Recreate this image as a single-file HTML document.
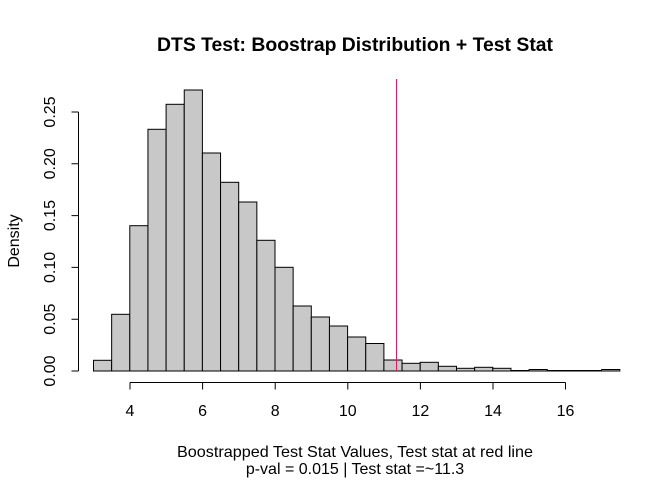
<!DOCTYPE html>
<html><head><style>body{margin:0;background:#fff}svg{display:block}text{font-family:"Liberation Sans",Arial,sans-serif;fill:#000}</style></head>
<body>
<svg width="672" height="480" viewBox="0 0 672 480" xmlns="http://www.w3.org/2000/svg">
<text x="355" y="51" font-size="19" font-weight="bold" text-anchor="middle" textLength="396" lengthAdjust="spacingAndGlyphs">DTS Test: Boostrap Distribution + Test Stat</text>
<g fill="#c8c8c8" stroke="#000" stroke-width="1">
<rect x="93.5" y="360.3" width="18.15" height="10.7"/>
<rect x="111.65" y="314.3" width="18.15" height="56.7"/>
<rect x="129.8" y="225.7" width="18.15" height="145.3"/>
<rect x="147.95" y="129.3" width="18.15" height="241.7"/>
<rect x="166.1" y="104.3" width="18.15" height="266.7"/>
<rect x="184.25" y="90" width="18.15" height="281"/>
<rect x="202.4" y="153" width="18.15" height="218"/>
<rect x="220.55" y="182.3" width="18.15" height="188.7"/>
<rect x="238.7" y="202" width="18.15" height="169"/>
<rect x="256.85" y="240.3" width="18.15" height="130.7"/>
<rect x="275" y="267.3" width="18.15" height="103.7"/>
<rect x="293.15" y="306" width="18.15" height="65"/>
<rect x="311.3" y="317" width="18.15" height="54"/>
<rect x="329.45" y="326" width="18.15" height="45"/>
<rect x="347.6" y="337" width="18.15" height="34"/>
<rect x="365.75" y="343.5" width="18.15" height="27.5"/>
<rect x="383.9" y="360" width="18.15" height="11"/>
<rect x="402.05" y="363.3" width="18.15" height="7.7"/>
<rect x="420.2" y="362.3" width="18.15" height="8.7"/>
<rect x="438.35" y="366.3" width="18.15" height="4.7"/>
<rect x="456.5" y="368.3" width="18.15" height="2.7"/>
<rect x="474.65" y="367.3" width="18.15" height="3.7"/>
<rect x="492.8" y="368.3" width="18.15" height="2.7"/>
<rect x="510.95" y="370.5" width="18.15" height="0.5"/>
<rect x="529.1" y="369.5" width="18.15" height="1.5"/>
<rect x="547.25" y="370.5" width="18.15" height="0.5"/>
<rect x="565.4" y="370.5" width="18.15" height="0.5"/>
<rect x="583.55" y="370.5" width="18.15" height="0.5"/>
<rect x="601.7" y="369.5" width="18.15" height="1.5"/>
</g>
<line x1="396.5" y1="79" x2="396.5" y2="371" stroke="#e8175d" stroke-width="1"/>
<g stroke="#000" stroke-width="1" fill="none">
<path d="M130,382.5H565.5M130,382.5v7M202.6,382.5v7M275.2,382.5v7M347.8,382.5v7M420.4,382.5v7M493,382.5v7M565.5,382.5v7"/>
<path d="M78.5,371V112M78.5,371h-7M78.5,319.2h-7M78.5,267.4h-7M78.5,215.6h-7M78.5,163.8h-7M78.5,112h-7"/>
</g>
<g font-size="16" text-anchor="middle">
<text x="130" y="416">4</text><text x="202.6" y="416">6</text><text x="275.2" y="416">8</text>
<text x="347.8" y="416">10</text><text x="420.4" y="416">12</text><text x="493" y="416">14</text><text x="565.5" y="416">16</text>
<text transform="translate(55,371) rotate(-90)">0.00</text>
<text transform="translate(55,319.2) rotate(-90)">0.05</text>
<text transform="translate(55,267.4) rotate(-90)">0.10</text>
<text transform="translate(55,215.6) rotate(-90)">0.15</text>
<text transform="translate(55,163.8) rotate(-90)">0.20</text>
<text transform="translate(55,112) rotate(-90)">0.25</text>
<text transform="translate(19,241) rotate(-90)">Density</text>
<text x="355" y="457" textLength="356" lengthAdjust="spacingAndGlyphs">Boostrapped Test Stat Values, Test stat at red line</text>
<text x="355" y="474">p-val = 0.015 | Test stat =~11.3</text>
</g>
</svg>
</body></html>
